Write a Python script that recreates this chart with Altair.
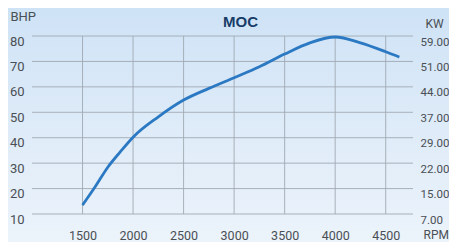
import altair as alt
import pandas as pd

rpm = [1500, 1625, 1750, 1875, 2000, 2250, 2500, 2750, 3000, 3250, 3500, 3750, 4000, 4250, 4500, 4635]
bhp = [13.5, 20.7, 28.4, 34.5, 40.2, 48.2, 54.8, 59.4, 63.6, 67.9, 72.9, 77.3, 79.6, 77.3, 73.8, 71.7]
bhp_ticks = [10, 20, 30, 40, 50, 60, 70, 80]
kw_labels = ["7.00", "15.00", "22.00", "29.00", "37.00", "44.00", "51.00", "59.00"]
rpm_ticks = [1500, 2000, 2500, 3000, 3500, 4000, 4500]

df = pd.DataFrame({"rpm": rpm, "bhp": bhp})
kw_map = "{" + ",".join(f"'{t}':'{k}'" for t, k in zip(bhp_ticks, kw_labels)) + "}"

W, H = 381, 178
FONT = "Roboto, sans-serif"
LBL = "#4a4f55"
GRID = "#a0a9b2"

bg = alt.Chart(pd.DataFrame({"a": [0]})).mark_rect(
    color=alt.Gradient(
        gradient="linear", x1=0, y1=0, x2=0, y2=1,
        stops=[alt.GradientStop(color="#cde2f6", offset=0),
               alt.GradientStop(color="#deebf8", offset=0.5),
               alt.GradientStop(color="#edf4fb", offset=1)]
    )
).encode(x=alt.value(-40), x2=alt.value(W + 60), y=alt.value(-40), y2=alt.value(H + 40))

xscale = alt.Scale(domain=[1000, 4770], nice=False, zero=False)
yscale = alt.Scale(domain=[10, 80], nice=False, zero=False)

xaxis = alt.Axis(
    values=rpm_ticks, format="d", grid=False, domain=False, ticks=False, zindex=1,
    labelPadding=15, labelFontSize=12.5, labelFont=FONT, labelColor=LBL, labelBaseline="top",
    title="RPM", titleFont=FONT, titleFontSize=12, titleFontWeight="normal", titleColor=LBL,
    titleX=W + 10, titleY=15, titleAlign="left", titleBaseline="top", titleAngle=0)

vgrid = alt.Chart(pd.DataFrame({"rpm": rpm_ticks})).mark_rule(color=GRID, strokeWidth=0.9).encode(
    x=alt.X("rpm:Q", scale=xscale, axis=xaxis)
)
hgrid = alt.Chart(pd.DataFrame({"bhp": bhp_ticks})).mark_rule(color=GRID, strokeWidth=0.9).encode(
    y=alt.Y("bhp:Q", scale=yscale, axis=None)
)

line = alt.Chart(df).mark_line(color="#2b79c3", strokeWidth=2.8, interpolate="monotone").encode(
    x=alt.X("rpm:Q", scale=xscale, axis=xaxis),
    y=alt.Y("bhp:Q", scale=yscale, axis=alt.Axis(
        values=bhp_ticks, grid=False, domain=False, ticks=False, zindex=1,
        labelPadding=8, labelFontSize=13, labelFont=FONT, labelColor=LBL, labelBaseline="top",
        labelOffset=-1,
        title="BHP", titleFont=FONT, titleFontSize=13, titleFontWeight="normal", titleColor=LBL,
        titleX=-22, titleY=-26, titleAlign="left", titleBaseline="top", titleAngle=0)),
)

right = alt.Chart(df).mark_line(opacity=0).encode(
    x=alt.X("rpm:Q", scale=xscale, axis=xaxis),
    y=alt.Y("bhp:Q", scale=yscale, axis=alt.Axis(
        orient="right", values=bhp_ticks, grid=False, domain=False, ticks=False, zindex=1,
        labelExpr=f"{kw_map}[datum.value]", labelAlign="left", labelBaseline="top",
        labelPadding=7, labelFontSize=11.5, labelFont=FONT, labelColor=LBL,
        title="KW", titleFont=FONT, titleFontSize=12, titleFontWeight="normal", titleColor=LBL,
        titleX=12, titleY=-18, titleAlign="left", titleBaseline="top", titleAngle=0)),
)

chart = alt.layer(bg, vgrid, hgrid, line, right).resolve_scale(y="independent").properties(
    width=W, height=H,
    title=alt.TitleParams("MOC", fontSize=15, fontWeight="bold", color="#173d68",
                          font="Liberation Sans, Arial, sans-serif", zindex=1,
                          anchor="middle", frame="group", offset=-46, dx=18, baseline="alphabetic"),
    autosize=alt.AutoSizeParams(type="none"),
    padding={"left": 24, "top": 28, "right": 36, "bottom": 28},
).configure_view(stroke=None).configure(background="#dbe9f7")

chart.save("out.html", embed_options={"renderer": "svg", "actions": False})
